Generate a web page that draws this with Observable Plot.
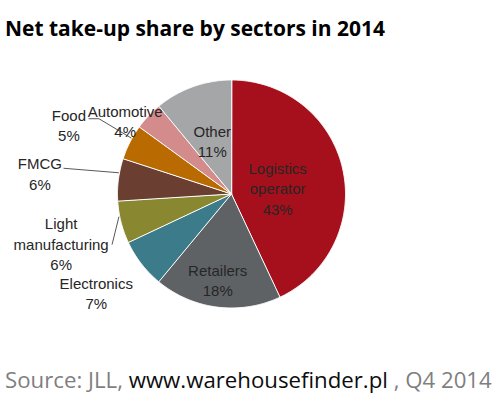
<!DOCTYPE html>
<html>
<head>
<meta charset="utf-8">
<script src="https://cdn.jsdelivr.net/npm/d3@7"></script>
<script src="https://cdn.jsdelivr.net/npm/@observablehq/plot@0.6"></script>
<style>
  html, body { margin: 0; padding: 0; background: #fff; }
  #wrap { width: 499px; height: 398px; overflow: hidden; }
  #wrap > svg, #chart > svg { display: block; }
</style>
</head>
<body>
<div id="wrap">
  <svg id="title" width="499" height="50">
    <text x="5" y="36" font-family="'Open Sans'" font-weight="700" fill="#000">Net take-up share by sectors in 2014</text>
  </svg>
  <div id="chart"></div>
  <svg id="caption" width="499" height="48">
    <text x="5" y="38" font-family="'Open Sans'" fill="#7f7f7f"><tspan>Source: JLL, </tspan><tspan fill="#0d0d0d">www.warehousefinder.pl</tspan><tspan> , Q4 2014</tspan></text>
  </svg>
</div>
<script>
// ---- data ----
const sectors = ["Logistics operator", "Retailers", "Electronics", "Light manufacturing", "FMCG", "Food", "Automotive", "Other"];
const shares = [43, 18, 7, 6, 6, 5, 4, 11];
const labelNames = ["Logistics\noperator", "Retailers", "Electronics", "Light\nmanufacturing", "FMCG", "Food", "Automotive", "Other"];
const colors = ["#A6101C", "#5F6265", "#3B7B8A", "#8A8731", "#6A3F32", "#B96A00", "#D48B8B", "#A5A6A8"];

// ---- layout (label placement: radius factor along mid-angle + pixel nudge) ----
const R = 114;
const labelLayout = {
  "Logistics operator": {k: 0.406, dx: 1, dy: 4},
  "Retailers": {k: 0.755, dx: -3, dy: 0},
  "Electronics": {k: 1.468, dx: -3, dy: -4},
  "Light manufacturing": {k: 1.561, dx: 2, dy: 5},
  "FMCG": {k: 1.694, dx: 0, dy: 3},
  "Food": {k: 1.551, dx: -5, dy: 11},
  "Automotive": {k: 1.123, dx: -13, dy: 14},
  "Other": {k: 0.498, dx: 0, dy: 0}
};
const leaderLayout = {
  "Food": {at: 0.62, via: [[30, -6], [20, -6]]},
  "FMCG": {at: 0.66, via: [[24, -4.5]]},
  "Light manufacturing": {at: 0.63, via: [[51, 1]]}
};

// fit header / footer fonts to their widths
function fit(id, target, weight) {
  const t = document.querySelector("#" + id + " text");
  const ctx = document.createElement("canvas").getContext("2d");
  ctx.font = weight + " 100px 'Open Sans'";
  const w = ctx.measureText(t.textContent).width;
  t.setAttribute("font-size", (100 * target / w).toFixed(2));
}
fit("title", 380, "700");
fit("caption", 487, "400");

// ---- geometry from data ----
const arcs = d3.pie().value(d => d).sort(null)(shares);
const slicePts = [];
arcs.forEach((a, i) => {
  slicePts.push({sector: sectors[i], x: 0, y: 0});
  const n = Math.max(2, Math.ceil((a.endAngle - a.startAngle) / (Math.PI / 360)));
  for (let j = 0; j <= n; j++) {
    const t = a.startAngle + (a.endAngle - a.startAngle) * j / n;
    slicePts.push({sector: sectors[i], x: R * Math.sin(t), y: R * Math.cos(t)});
  }
});

const labels = arcs.map((a, i) => {
  const L = labelLayout[sectors[i]];
  const m = (a.startAngle + a.endAngle) / 2;
  return {
    sector: sectors[i],
    text: labelNames[i] + "\n" + shares[i] + "%",
    x: L.k * R * Math.sin(m) + L.dx,
    y: L.k * R * Math.cos(m) - L.dy,
    a
  };
});

const leaderPts = [];
labels.forEach(l => {
  const L = leaderLayout[l.sector];
  if (!L) return;
  const t = l.a.startAngle + L.at * (l.a.endAngle - l.a.startAngle);
  leaderPts.push({id: l.sector, x: (R + 1) * Math.sin(t), y: (R + 1) * Math.cos(t)});
  L.via.forEach(([ox, oy]) => leaderPts.push({id: l.sector, x: l.x + ox, y: l.y - oy}));
});

const chart = Plot.plot({
  width: 499,
  height: 300,
  marginLeft: 117,
  marginRight: 154,
  marginTop: 29.5,
  marginBottom: 42.5,
  x: {domain: [-R, R], axis: null},
  y: {domain: [-R, R], axis: null},
  color: {domain: sectors, range: colors},
  style: {background: "transparent", overflow: "visible"},
  marks: [
    Plot.line(slicePts, {x: "x", y: "y", z: "sector", fill: "sector", stroke: "white", strokeWidth: 1, curve: "linear-closed"}),
    Plot.line(leaderPts, {x: "x", y: "y", z: "id", stroke: "#595959", strokeWidth: 1}),
    Plot.text(labels, {x: "x", y: "y", text: "text", fontSize: 15, fontFamily: "'Liberation Sans', Arial, sans-serif", fill: "#262626", lineHeight: 1.36})
  ]
});
document.getElementById("chart").appendChild(chart);
</script>
</body>
</html>
